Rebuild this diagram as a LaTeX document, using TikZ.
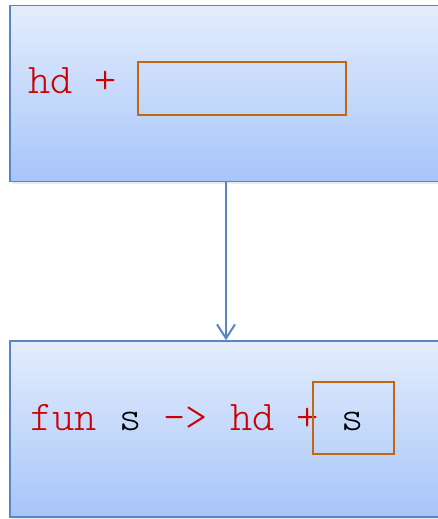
\documentclass[tikz,border=0pt]{standalone}
\usepackage{fontspec}
\setmonofont{Latin Modern Mono Light}
\usetikzlibrary{arrows.meta,shadows}

\definecolor{boxline}{HTML}{5A85C3}
\definecolor{boxtop}{HTML}{E4EDFC}
\definecolor{boxbottom}{HTML}{A7C5F9}
\definecolor{holeline}{HTML}{C0670F}
\definecolor{codered}{HTML}{CC0000}

\tikzset{
  exprbox/.style={draw=boxline, line width=1.5pt, top color=boxtop, bottom color=boxbottom,
    minimum width=432pt, minimum height=176pt, inner sep=0pt,
    drop shadow={shadow xshift=2pt, shadow yshift=-2.5pt, opacity=0.15}},
  hole/.style={draw=holeline, line width=1.5pt, inner sep=0pt},
  code/.style={anchor=base west, inner sep=0pt, font=\ttfamily\fontsize{42.3}{44}\selectfont}
}

\begin{document}
\begin{tikzpicture}[x=1pt,y=-1pt,>={Straight Barb[length=14pt,width=18pt]}]
\useasboundingbox (0,0) rectangle (437,519);

\node[exprbox] (upper) at (226,93.5) {};
\node[exprbox] (lower) at (226,429) {};

\node[hole, minimum width=208pt, minimum height=53pt] (gap) at (242,88.5) {};
\node[code] (before) at (28,93) {\color{codered}hd +};

\node[code] (after) at (30,430) {\color{codered}fun \color{black}s \color{codered}-> hd + \color{black}s};
\node[hole, minimum width=81pt, minimum height=72pt] (filled) at (353.5,418) {};

\draw[->, draw=boxline, line width=2pt] (upper.south) -- (lower.north);
\end{tikzpicture}
\end{document}
